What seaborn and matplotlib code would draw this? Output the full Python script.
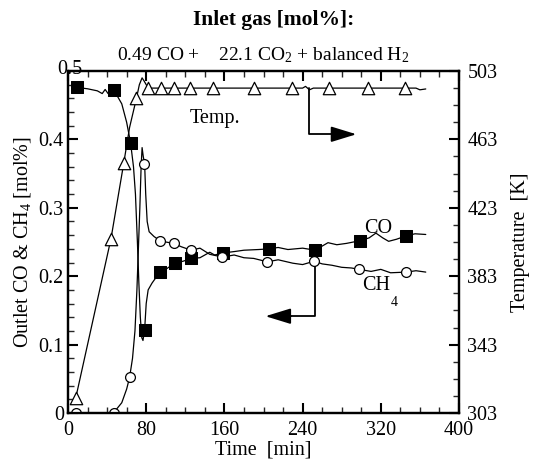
import matplotlib
matplotlib.use("Agg")
import matplotlib.pyplot as plt
import seaborn as sns
import numpy as np
from matplotlib.ticker import MultipleLocator, FixedLocator

# ---- data ----
# CO (filled squares), outlet mol%
co_mark_t = [9, 47, 64, 79, 94, 109, 126, 159, 206, 253, 299, 346]
co_mark_v = [0.476, 0.472, 0.395, 0.122, 0.206, 0.219, 0.226, 0.234, 0.240, 0.238, 0.252, 0.259]
co_line_t = [9, 20, 30, 35, 38, 41, 47, 55, 60, 64, 67, 69, 71, 72.5, 74, 75.5, 76.7, 78.4,
             80, 82, 86, 94, 100, 109, 118, 126, 135, 145, 150, 159, 170, 180, 195, 206,
             215, 225, 240, 253, 260, 266, 275, 285, 299, 308, 315, 322, 328, 336, 346, 355, 366]
co_line_v = [0.476, 0.474, 0.471, 0.467, 0.473, 0.467, 0.472, 0.452, 0.425, 0.395, 0.36, 0.32,
             0.25, 0.19, 0.14, 0.11, 0.106, 0.122, 0.16, 0.18, 0.19, 0.206, 0.21, 0.219, 0.222,
             0.226, 0.227, 0.235, 0.231, 0.234, 0.236, 0.238, 0.239, 0.240, 0.242, 0.239, 0.241,
             0.238, 0.244, 0.249, 0.246, 0.248, 0.252, 0.256, 0.263, 0.256, 0.251, 0.254, 0.259,
             0.262, 0.261]

# CH4 (open circles), outlet mol%
ch4_mark_t = [8, 47, 63, 78, 94, 108, 126, 158, 204, 252, 298, 346]
ch4_mark_v = [0.0, 0.0, 0.052, 0.364, 0.252, 0.248, 0.238, 0.228, 0.221, 0.222, 0.210, 0.206]
ch4_line_t = [8, 40, 47, 55, 60, 63, 66, 68.5, 70.5, 72, 73.5, 74.8, 75.8, 77, 78.4, 79.5,
              81, 83, 88, 94, 100, 108, 116, 126, 135, 145, 158, 170, 180, 190, 204, 215,
              230, 240, 252, 260, 270, 280, 290, 298, 310, 320, 330, 346, 356, 366]
ch4_line_v = [0.0, 0.0, 0.001, 0.015, 0.035, 0.052, 0.08, 0.12, 0.18, 0.24, 0.30, 0.36, 0.388,
              0.375, 0.364, 0.32, 0.28, 0.265, 0.258, 0.252, 0.25, 0.248, 0.243, 0.238, 0.241,
              0.232, 0.228, 0.231, 0.227, 0.226, 0.221, 0.224, 0.219, 0.217, 0.222, 0.218, 0.216,
              0.213, 0.212, 0.210, 0.207, 0.210, 0.205, 0.206, 0.208, 0.206]

# Temperature (open triangles), K
tmp_mark_t = [8, 44, 57, 70, 82, 95, 108, 125, 148, 190, 229, 267, 307, 345]
tmp_mark_v = [312, 405, 449, 487, 493, 493, 493, 493, 493, 493, 493, 493, 493, 493]
tmp_line_t = [8, 44, 57, 63, 70, 73, 75.8, 78, 82, 95, 150, 240, 243, 247, 251, 300, 345, 356, 360, 366]
tmp_line_v = [312, 405, 449, 470, 487, 495, 499, 497, 493, 493, 493, 493, 494, 492, 493, 493, 493, 493, 492, 492.5]

x_ticks = [0, 80, 160, 240, 320, 400]
left_ticks = [0, 0.1, 0.2, 0.3, 0.4, 0.5]
left_labels = ["0", "0.1", "0.2", "0.3", "0.4", ""]
right_ticks = [303, 343, 383, 423, 463, 503]

# ---- style ----
sns.set_theme(style="ticks")
plt.rcParams["font.family"] = ["Liberation Serif", "DejaVu Serif"]
plt.rcParams["mathtext.fontset"] = "custom"
plt.rcParams["mathtext.rm"] = "Liberation Serif"
plt.rcParams["mathtext.it"] = "Liberation Serif:italic"
plt.rcParams["mathtext.bf"] = "Liberation Serif:bold"

fig = plt.figure(figsize=(5.47, 4.65), dpi=100)
ax = fig.add_axes([68 / 547, 1 - 413 / 465, (459 - 68) / 547, (413 - 71) / 465])
ax2 = ax.twinx()

lw = 0.9
sns.lineplot(x=co_line_t, y=co_line_v, ax=ax, color="black", lw=lw, sort=False, estimator=None)
sns.lineplot(x=ch4_line_t, y=ch4_line_v, ax=ax, color="black", lw=lw, sort=False, estimator=None)
sns.scatterplot(x=co_mark_t, y=co_mark_v, ax=ax, marker="s", s=85, color="black",
                edgecolor="black", zorder=5)
sns.scatterplot(x=ch4_mark_t, y=ch4_mark_v, ax=ax, marker="o", s=50, facecolor="white",
                edgecolor="black", linewidth=0.9, zorder=5)
sns.lineplot(x=tmp_line_t, y=tmp_line_v, ax=ax2, color="black", lw=lw, sort=False, estimator=None)
sns.scatterplot(x=tmp_mark_t, y=tmp_mark_v, ax=ax2, marker="^", s=80, facecolor="white",
                edgecolor="black", linewidth=0.9, zorder=5)

ax.set_xlim(0, 400)
ax.set_ylim(0, 0.5)
ax2.set_ylim(303, 503)

ax.set_xticks(x_ticks)
ax.xaxis.set_minor_locator(MultipleLocator(20))
ax.set_yticks(left_ticks)
ax.set_yticklabels(left_labels)
ax.yaxis.set_minor_locator(MultipleLocator(0.02))
ax2.set_yticks(right_ticks)
ax2.yaxis.set_minor_locator(FixedLocator(list(np.arange(303, 504, 10))))

fs = 14.5
for a in (ax, ax2):
    for sp in a.spines.values():
        sp.set_linewidth(1.6)
        sp.set_color("black")
ax.tick_params(axis="both", which="major", direction="in", length=7, width=1.5,
               labelsize=fs, colors="black", top=True, right=False, pad=3)
ax.tick_params(axis="x", which="major", pad=6)
ax.tick_params(axis="both", which="minor", direction="in", length=4, width=1.0,
               top=True, right=False)
ax2.tick_params(axis="y", which="major", direction="in", length=7, width=1.5,
                labelsize=fs, colors="black", pad=6)
ax2.tick_params(axis="y", which="minor", direction="in", length=4, width=1.0)

ax.set_xlabel("Time  [min]", fontsize=fs, color="black", labelpad=0)
ax.set_ylabel("Outlet CO & CH$_{\\mathregular{4}}$ [mol%]", fontsize=fs, color="black", labelpad=4)
ax2.set_ylabel("Temperature  [K]", fontsize=fs, color="black", labelpad=10)

# corner label 0.5
ax.text(-11, 0.5015, "0.5", fontsize=fs, ha="left", va="center", color="black", clip_on=False)

# titles
fig.text(274 / 547, 1 - 20 / 465, "Inlet gas [mol%]:", fontsize=15.5, fontweight="bold",
         ha="center", va="center", color="black")
fig.text(263 / 547, 1 - 55 / 465,
         "0.49 CO +    22.1 CO$_{\\mathregular{2}}$ + balanced H$_{\\mathregular{2}}$",
         fontsize=14, ha="center", va="center", color="black")

# annotations
ax.text(150, 0.431, "Temp.", fontsize=fs, ha="center", va="center", color="black")
ax.text(303, 0.27, "CO", fontsize=fs, ha="left", va="center", color="black")
ax.text(301, 0.186, "CH", fontsize=fs, ha="left", va="center", color="black")
ax.text(330, 0.162, "4", fontsize=10, ha="left", va="center", color="black")

# arrow to right axis (temperature)
ax2.plot([246.5, 246.5, 272], [493, 466, 466], color="black", lw=1.3)
ax2.annotate("", xy=(295, 466), xytext=(270, 466),
             arrowprops=dict(arrowstyle="-|>,head_length=1.3,head_width=0.4",
                             color="black", lw=1.3, shrinkA=0, shrinkB=0))
# arrow to left axis (concentration)
ax.plot([252.4, 252.4, 226], [0.222, 0.1415, 0.1415], color="black", lw=1.3)
ax.annotate("", xy=(202, 0.1415), xytext=(228, 0.1415),
            arrowprops=dict(arrowstyle="-|>,head_length=1.3,head_width=0.4",
                            color="black", lw=1.3, shrinkA=0, shrinkB=0))

fig.savefig("out.png", dpi=100)
